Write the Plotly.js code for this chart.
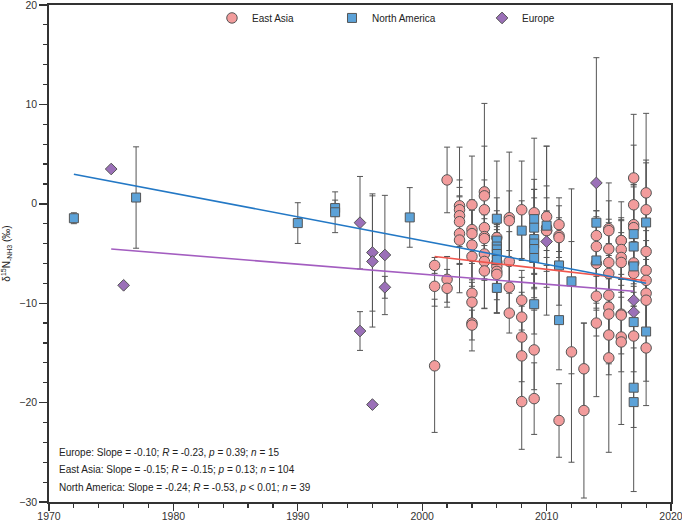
<!DOCTYPE html>
<html>
<head>
<meta charset="utf-8">
<script src="https://cdn.plot.ly/plotly-3.0.1.min.js"></script>
<style>html,body{margin:0;padding:0;background:#fff;}#chart{width:682px;height:523px;}</style>
</head>
<body>
<div id="chart"></div>
<script>
// ---- East Asia (circles) ----
const eaYear = [2001,2001,2001, 2002,2002,2002, 2003,2003,2003,2003,2003,2003,
  2004,2004,2004,2004,2004,2004,2004,2004,2004,
  2005,2005,2005,2005,2005,2005,2005,2005,2005,
  2006,2006,2006,2006,2006,
  2007,2007,2007,2007,2007,
  2008,2008,2008,2008,2008,2008,
  2009,2009,2009,
  2010,2010,2010,2010,
  2011,2011,2011,2011,
  2012,
  2013,2013,
  2014,2014,2014,2014,2014,
  2015,2015,2015,2015,2015,2015,2015,2015,2015,2015,
  2016,2016,2016,2016,2016,2016,2016,2016,2016,
  2017,2017,2017,2017,2017,2017,2017,
  2018,2018,2018,2018,2018,2018,2018,2018];
const eaVal = [-6.2,-8.3,-16.3, 2.4,-7.6,-8.5, -0.2,-0.6,-1.2,-1.8,-3.0,-3.65,
  -0.1,-2.6,-3.0,-4.15,-5.3,-9.0,-9.9,-12.0,-12.2,
  1.2,0.8,-0.6,-2.4,-3.3,-3.5,-5.05,-5.8,-6.75,
  -3.4,-5.9,-6.3,-6.8,-7.1,
  -1.4,-1.7,-5.8,-8.4,-11.0,
  -0.6,-9.7,-11.4,-13.4,-15.3,-19.9,
  -0.9,-14.7,-19.6,
  -1.3,-2.4,-2.7,-2.7,
  -2.1,-3.2,-3.4,-21.8,
  -14.9,
  -16.6,-20.8,
  -3.2,-4.3,-6.0,-9.3,-12.0,
  -2.5,-2.7,-4.55,-5.9,-7.0,-9.2,-10.4,-11.1,-13.2,-15.5,
  -3.7,-3.7,-4.6,-5.4,-5.9,-11.1,-11.2,-13.4,-13.9,
  2.6,-0.1,-2.1,-2.4,-5.95,-7.0,-13.3,
  1.1,-0.6,-4.8,-6.7,-7.7,-9.0,-9.7,-14.5];
const eaErr = [0.8,2.0,6.7, 3.3,2.3,1.9, 5.9,3.0,2.0,2.5,3.0,5.3,
  4.9,3.0,2.5,3.5,3.0,3.0,2.0,2.8,1.5,
  8.9,5.0,3.0,4.0,3.0,2.0,2.5,4.7,3.8,
  4.0,3.0,2.5,4.2,3.9,
  6.6,3.0,3.0,2.5,2.0,
  4.9,3.0,4.0,4.5,5.0,4.8,
  7.5,4.0,3.6,
  7.1,3.0,8.5,2.0,
  2.7,3.0,2.0,3.7,
  11.1,
  4.6,8.8,
  2.5,3.0,4.0,4.0,7.4,
  4.6,3.0,3.0,4.0,3.0,4.0,3.0,5.0,4.0,9.5,
  3.9,2.0,3.0,4.0,3.0,4.0,3.0,8.8,3.0,
  6.4,6.0,4.0,5.0,4.0,5.0,5.0,
  8.0,5.0,4.0,3.0,5.0,4.0,3.0,5.8];

// ---- North America (squares) ----
const naYear = [1972,1977,1990,1993,1993,1999,
  2006,2006,2006,2006,2006,2006,2006,
  2008,
  2009,2009,2009,2009,2009,2009,2009,
  2010,
  2011,2011,
  2012,
  2014,2014,
  2017,2017,2017,2017,2017,2017,
  2018,2018];
const naVal = [-1.45,0.63,-1.94,-0.43,-0.85,-1.37,
  -1.5,-3.7,-4.3,-4.6,-5.05,-5.65,-8.46,
  -2.7,
  -1.54,-2.4,-3.55,-4.0,-4.55,-5.45,-10.1,
  -2.2,
  -6.2,-11.7,
  -7.8,
  -1.9,-5.7,
  -3.05,-4.3,-6.3,-11.9,-18.5,-19.95,
  -1.88,-12.85];
const naErr = [0.55,5.1,2.05,0.8,2.05,3.0,
  5.8,3.0,2.0,2.5,3.0,4.0,2.5,
  3.0,
  4.0,3.0,5.0,3.0,6.0,4.0,3.0,
  4.0,
  4.0,5.0,
  9.3,
  4.0,5.0,
  5.0,6.0,4.0,5.0,4.0,9.0,
  6.0,5.0];

// ---- Europe (diamonds) ----
const euYear = [1975,1976,1995,1995,1996,1996,1996,1997,1997,2010,2014,2017,2017];
const euVal  = [3.5,-8.2,-1.9,-12.8,-4.9,-5.8,-20.2,-5.15,-8.4,-3.8,2.1,-9.7,-10.9];
const euErr  = [0,0,4.65,1.95,5.9,6.6,0,6.0,1.1,3.0,12.6,2.0,2.0];

// ---- regression lines (end points) ----
const naFitYear = [1972, 2018];
const naFitVal  = [2.98, -8.0];
const eaFitYear = [2001, 2018];
const eaFitVal  = [-5.3, -7.75];
const euFitYear = [1975, 2017];
const euFitVal  = [-4.55, -8.8];

const statLines = [
  'Europe: Slope = -0.10; <i>R</i> = -0.23, <i>p</i> = 0.39; <i>n</i> = 15',
  'East Asia: Slope = -0.15; <i>R</i> = -0.15; <i>p</i> = 0.13; <i>n</i> = 104',
  'North America: Slope = -0.24; <i>R</i> = -0.53, <i>p</i> &lt; 0.01; <i>n</i> = 39'
];

const FONT = 'Arial, "Liberation Sans", sans-serif';
const errStyle = arr => ({type:'data', array: arr, visible:true, color:'#555', thickness:1, width:3});
const nb = n => '\u00A0'.repeat(n);

const traces = [
  // error bars beneath all markers
  {x: eaYear, y: eaVal, mode:'markers', marker:{size:10, opacity:0}, error_y: errStyle(eaErr), showlegend:false, hoverinfo:'skip'},
  {x: naYear, y: naVal, mode:'markers', marker:{size:9, opacity:0}, error_y: errStyle(naErr), showlegend:false, hoverinfo:'skip'},
  {x: euYear, y: euVal, mode:'markers', marker:{size:9, opacity:0}, error_y: errStyle(euErr), showlegend:false, hoverinfo:'skip'},
  // markers
  {x: eaYear, y: eaVal, mode:'markers', name:'East Asia' + nb(12),
   marker:{symbol:'circle', size:10.5, color:'#F29C9C', line:{color:'#555', width:1}}},
  {x: naYear, y: naVal, mode:'markers', name:'North America' + nb(15),
   marker:{symbol:'square', size:9, color:'#5CA2D8', line:{color:'#555', width:1}}},
  {x: euYear, y: euVal, mode:'markers', name:'Europe',
   marker:{symbol:'diamond', size:9, color:'#9B70B8', line:{color:'#555', width:1}}},
  // fit lines
  {x: eaFitYear, y: eaFitVal, mode:'lines', line:{color:'#F0564E', width:1.6}, showlegend:false, hoverinfo:'skip'},
  {x: euFitYear, y: euFitVal, mode:'lines', line:{color:'#A35DC0', width:1.6}, showlegend:false, hoverinfo:'skip'},
  {x: naFitYear, y: naFitVal, mode:'lines', line:{color:'#2378C5', width:1.6}, showlegend:false, hoverinfo:'skip'}
];

const axisCommon = {
  showline:true, linewidth:1.8, linecolor:'#333', mirror:true,
  showgrid:false, zeroline:false, ticks:'outside', tickwidth:1.4, tickcolor:'#333',
  ticklabeloverflow:'allow',
  tickfont:{family:FONT, size:10.5, color:'#333'}
};

const layout = {
  width:682, height:523,
  margin:{l:49, r:11, t:4, b:21},
  paper_bgcolor:'#fff', plot_bgcolor:'#fff',
  font:{family:FONT, size:10, color:'#222'},
  xaxis: Object.assign({}, axisCommon, {
    range:[1970,2020], tick0:1970, dtick:10, ticklen:7, ticklabelstandoff:-3,
    minor:{dtick:2, ticks:'outside', ticklen:4, tickwidth:1.2, tickcolor:'#333', showgrid:false}
  }),
  yaxis: Object.assign({}, axisCommon, {
    range:[-30,20], tick0:-30, dtick:10, ticklen:8,
    minor:{dtick:2, ticks:'outside', ticklen:4, tickwidth:1.2, tickcolor:'#333', showgrid:false},
    title:{text:'δ<sup>15</sup>N<sub>-NH3</sub> (‰)', font:{family:FONT, size:10, color:'#222'}, standoff:8}
  }),
  legend:{orientation:'h', x:0.262, xanchor:'left', y:0.972, yanchor:'middle',
    bgcolor:'rgba(0,0,0,0)', font:{family:FONT, size:10, color:'#222'}},
  annotations: statLines.map((t, i) => ({
    text:t, xref:'paper', yref:'paper', x:0.013, xanchor:'left',
    y:[0.1004, 0.0663, 0.0301][i], yanchor:'middle', showarrow:false,
    font:{family:FONT, size:10, color:'#222'}
  }))
};

Plotly.newPlot('chart', traces, layout, {staticPlot:true, displayModeBar:false});
</script>
</body>
</html>
